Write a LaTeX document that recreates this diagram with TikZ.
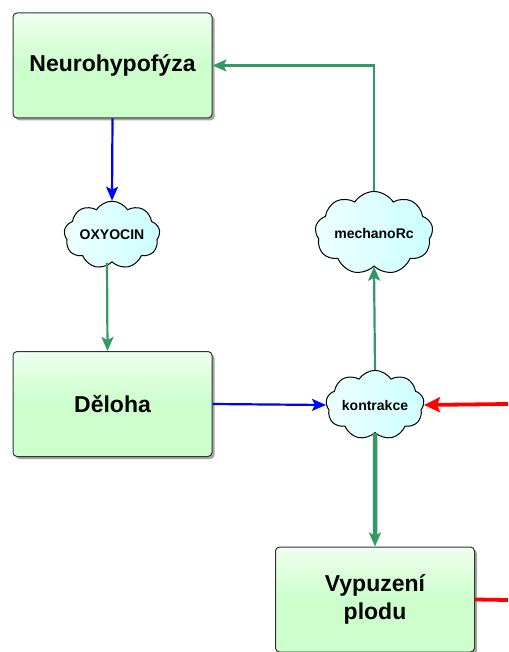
\documentclass[tikz,border=0pt]{standalone}
\usepackage{fontspec}
\setmainfont{Liberation Sans}
\usetikzlibrary{arrows.meta,shapes.symbols,shadows}
\definecolor{boxfill}{HTML}{CCFFCC}
\definecolor{boxlight}{HTML}{EEFFEE}
\definecolor{cloudfill}{HTML}{CCFFFF}
\definecolor{cloudlight}{HTML}{EEFFFF}
\definecolor{edgegray}{HTML}{333333}
\definecolor{flowgreen}{HTML}{339966}
\definecolor{flowblue}{HTML}{0000FF}
\definecolor{flowred}{HTML}{FF0000}
\tikzset{
  organ/.style={rectangle, rounded corners=4pt, draw=edgegray, line width=1pt,
    top color=boxlight, bottom color=boxfill, middle color=boxfill,
    minimum width=199pt, minimum height=105pt, align=center,
    font=\bfseries\fontsize{23}{28}\selectfont,
    drop shadow={shadow xshift=2.5pt, shadow yshift=-2.5pt, opacity=0.35, fill=black}},
  signal/.style={cloud, cloud puffs=9, cloud puff arc=115, aspect=1.7,
    draw=black, line width=1pt, left color=cloudlight, right color=cloudfill,
    minimum width=94pt, minimum height=56pt, inner sep=0pt,
    font=\bfseries\fontsize{14}{17}\selectfont},
  tip/.style={-{Stealth[length=14pt, width=12pt, inset=3pt]}},
  greenflow/.style={tip, draw=flowgreen, line width=2.2pt},
  blueflow/.style={tip, draw=flowblue, line width=2.2pt},
  redflow/.style={-{Stealth[length=16pt, width=15pt, inset=3pt]}, draw=flowred, line width=3.8pt},
}
\begin{document}
\begin{tikzpicture}[x=1pt, y=-1pt]
  \useasboundingbox (0,0) rectangle (508,652);

  % main blocks
  \node[organ] (nh)  at (112.5, 65.5) {Neurohypofýza};
  \node[organ] (del) at (112.5, 404)  {Děloha};
  \node[organ] (vp)  at (375, 599.5)  {Vypuzení\\plodu};

  % signal clouds
  \node[signal] (ox)  at (112, 235) {OXYOCIN};
  \node[signal] (mr)  at (374, 233) {mechanoRc};
  \node[signal] (kon) at (375, 405) {kontrakce};

  % free ends at the right margin
  \coordinate (redin)  at (508, 404);
  \coordinate (redout) at (508, 600);

  % connectors
  \draw[blueflow] (nh.south) -- (ox.north);
  \draw[greenflow] ([xshift=-5pt]ox.south) -- ([xshift=-5pt]del.north);
  \draw[blueflow] (del.east) -- (kon.west);
  \draw[redflow] (redin) -- (kon.east);
  \draw[greenflow] (kon.north) -- (mr.south);
  \draw[greenflow] (mr.north) |- (nh.east);
  \draw[tip, draw=flowgreen, line width=4.5pt] (kon.south) -- (vp.north);
  \draw[flowred, line width=3.8pt] (vp.east) -- (redout);
\end{tikzpicture}
\end{document}
